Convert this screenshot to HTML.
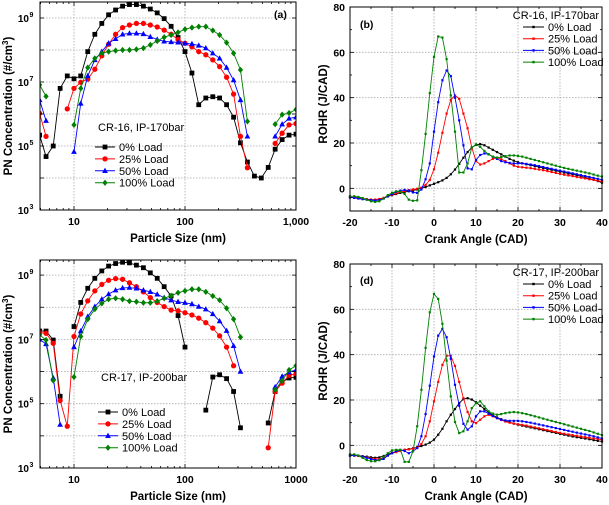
<!DOCTYPE html>
<html><head><meta charset="utf-8">
<style>
html,body{margin:0;padding:0;background:#fff;}
svg{display:block;font-family:"Liberation Sans",Arial,sans-serif;}
</style></head>
<body>
<svg id="fig" width="609" height="505" viewBox="0 0 609 505"></svg>
<script>
// ---------- Data: particle size distributions ----------
const diameters = [4.9,5.6,6.5,7.5,8.7,10,11.5,13.3,15.4,17.8,20.5,23.7,27.4,31.6,36.5,42.2,48.7,56.2,64.9,75,86.6,100,115.5,133,154,178,205,237,274,316,365,422,487,562,649,750,866,1000];
const loadLabels = ["0% Load","25% Load","50% Load","100% Load"];
// log10 of concentration (#/cm3), null = no data
const pnA0 = [5.34,4.67,5.0,6.8,7.19,7.1,7.19,7.95,8.49,8.83,9.1,9.25,9.37,9.42,9.42,9.37,9.28,9.16,8.98,8.74,8.39,7.95,7.28,6.29,6.5,6.54,6.5,6.29,5.9,5.1,4.5,4.06,4.0,4.33,4.9,5.2,5.34,5.37];
const pnA25 = [6.02,5.3,null,null,6.16,6.8,6.99,7.09,7.4,7.82,8.18,8.49,8.7,8.78,8.83,8.83,8.78,8.72,8.62,8.49,8.33,8.21,8.1,7.95,7.85,7.69,7.48,7.15,6.62,5.3,4.32,null,null,null,5.08,5.4,5.66,5.7];
const pnA50 = [6.44,5.79,null,null,null,4.82,6.33,7.19,7.69,7.95,8.21,8.35,8.49,8.52,8.52,8.5,8.41,8.33,8.27,8.25,8.24,8.21,8.19,8.14,8.06,7.9,7.74,7.45,7.06,6.44,5.3,null,null,null,5.3,5.68,5.86,5.9];
const pnA100 = [6.91,6.55,null,null,null,5.66,6.8,7.45,7.74,7.9,7.95,7.98,8.0,8.0,8.02,8.06,8.16,8.28,8.4,8.47,8.55,8.65,8.7,8.73,8.73,8.61,8.47,8.23,7.9,7.38,5.77,null,null,null,5.68,5.98,6.03,6.14];
const pnC0 = [7.26,7.26,6.98,5.23,null,7.4,8.15,8.59,8.9,9.13,9.28,9.36,9.4,9.38,9.31,9.23,9.07,8.9,8.64,8.35,7.74,6.76,null,null,4.8,5.83,5.9,5.78,5.38,4.25,null,null,null,4.4,5.38,5.67,5.8,5.82];
const pnC25 = [7.21,7.19,6.88,5.1,4.3,7.09,7.79,8.2,8.51,8.71,8.84,8.89,8.87,8.76,8.64,8.48,8.3,8.15,8.02,7.91,7.89,7.83,7.76,7.66,7.52,7.35,7.11,6.76,6.18,null,null,null,null,3.63,5.38,5.64,5.88,5.93];
const pnC50 = [7.0,6.86,5.8,4.35,null,6.76,7.26,7.71,8.02,8.25,8.41,8.53,8.6,8.61,8.59,8.53,8.48,8.4,8.3,8.22,8.17,8.14,8.1,8.02,7.94,7.79,7.57,7.27,6.8,6.0,null,null,null,null,5.52,5.85,5.98,6.05];
const pnC100 = [7.14,6.98,5.72,null,null,5.83,7.09,7.63,7.94,8.12,8.25,8.28,8.25,8.19,8.17,8.14,8.14,8.19,8.28,8.36,8.45,8.51,8.56,8.56,8.48,8.35,8.22,7.97,7.63,7.07,null,null,null,null,5.43,5.72,6.05,6.18];

// ---------- Data: heat release ----------
const crankAngles = [-20,-19,-18,-17,-16,-15,-14,-13,-12,-11,-10,-9,-8,-7,-6,-5,-4,-3,-2,-1,0,1,2,3,4,5,6,7,8,9,10,11,12,13,14,15,16,17,18,19,20,21,22,23,24,25,26,27,28,29,30,31,32,33,34,35,36,37,38,39,40];
const rohrB0 = [-4,-4,-4.2,-4.5,-4.8,-5,-5,-4.8,-4.3,-3.6,-3,-2.5,-2,-1.6,-1.3,-1,-0.5,0,0.6,1.3,2,2.7,3.5,4.6,6.2,8.3,10.8,13.5,16,18,19.2,19.5,19,18,17,16,15,14,13,12.2,11.5,11,10.6,10.2,9.8,9.4,9,8.6,8.2,7.8,7.4,7,6.6,6.2,5.8,5.3,4.8,4.3,3.8,3.2,2.5];
const rohrB25 = [-4,-4.2,-4.4,-4.6,-4.8,-5,-5,-4.7,-4.2,-3.5,-2.8,-2.2,-1.6,-1.2,-0.8,-0.5,-0.2,0.3,1.5,3.7,8.4,15.7,24.5,33,39,41,39.5,33,26.5,18,12,10.5,11,12,13,13.5,12.8,12,11,10,9.5,9.3,9.1,8.9,8.6,8.3,8,7.6,7.2,6.8,6.4,6,5.7,5.4,5,4.7,4.4,4,3.7,3.4,3];
const rohrB50 = [-4,-4.2,-4.5,-4.8,-5,-5.2,-5.4,-5.2,-4.5,-3.5,-2.5,-1.5,-1,-0.7,-1,-1.8,-2,-0.5,4,11,25,38,47.7,52,49.5,40,30,19,8.8,8.4,12.5,14.7,15.4,15,14,13,12,11.5,11.2,11,11,11,10.8,10.5,10.2,9.8,9.4,9,8.6,8.2,7.8,7.4,7,6.6,6.2,5.8,5.4,5,4.6,4.2,3.8];
const rohrB100 = [-3.5,-3.5,-3.8,-4.3,-5,-5.7,-6,-5.7,-4.5,-3,-2,-1.3,-1.5,-2.5,-5,-5.5,-5.3,8,24,42,58,67,66.5,57,41,25,7,7,11,18,19.4,18.3,16.5,15,14,13.5,13.8,14.2,14.5,14.5,14.3,14,13.5,13,12.5,12,11.5,11,10.5,10,9.5,9,8.6,8.2,7.8,7.4,7,6.6,6.1,5.6,5.2];
const rohrD0 = [-4.5,-4.5,-4.6,-4.8,-5,-5.3,-5.5,-5.3,-4.7,-4,-3.3,-2.8,-2.4,-2,-1.7,-1.3,-0.8,-0.3,0.3,1.2,2.5,4.7,7.3,10.6,13.5,16,18.6,20.4,20.8,20.2,19,17.5,16,14.5,13.3,12.3,11.5,10.8,10.2,9.6,9.1,8.7,8.3,7.9,7.5,7.1,6.7,6.3,5.9,5.5,5.1,4.7,4.3,3.9,3.6,3.3,3,2.7,2.3,2,1.7];
const rohrD25 = [-4.5,-4.5,-4.7,-5,-5.3,-5.8,-6,-6,-5.5,-4.5,-3.5,-3,-2.5,-2,-1.8,-1.5,-1,0.6,4,10.6,19.4,28,35.5,39.5,39.5,35,28,20.8,14.7,10.6,9.8,11.3,12.8,13.5,12.8,12,11.2,10.5,10,9.6,9.3,9,8.7,8.3,7.9,7.5,7.1,6.7,6.3,5.9,5.5,5.1,4.8,4.5,4.2,3.9,3.6,3.3,3,2.8,2.5];
const rohrD50 = [-4.5,-4.5,-4.5,-5,-5.5,-6,-6.5,-6.5,-6,-4.5,-3.5,-2.5,-2,-2.5,-3.5,-2.6,-1.2,4,13.8,26.3,39.2,48.4,51.4,47.7,38.2,26.7,17.5,9.5,6.9,8.4,12.8,15,15,14,13,12,11.3,11,10.8,10.8,10.8,10.6,10.3,10,9.6,9.2,8.8,8.4,8,7.6,7.2,6.8,6.4,6,5.6,5.2,4.8,4.4,4,3.5,3];
const rohrD100 = [-4,-4,-4.5,-5.5,-6.5,-7,-7,-6.5,-5,-3.5,-2.2,-2,-2,-7.3,-7.3,-2.6,8.4,24.5,43,58.7,66.8,64.6,53.6,37.4,21.6,10.3,5.4,6.2,10.6,16.4,18.6,19.4,17.2,15,14,13.5,13.8,14.2,14.5,14.7,14.5,14.2,13.8,13.3,12.8,12.3,11.8,11.3,10.8,10.3,9.8,9.3,8.8,8.3,7.8,7.3,6.8,6.3,5.7,5.1,4.5];

const colors = ["#000000","#ff0000","#0000ff","#008000"];
const markerKinds = ["square","circle","triangle","diamond"];
const NS = "http://www.w3.org/2000/svg";
const svg = document.getElementById("fig");
function mk(tag, attrs, parent) {
  const e = document.createElementNS(NS, tag);
  for (const k in attrs) e.setAttribute(k, attrs[k]);
  (parent || svg).appendChild(e);
  return e;
}
function marker(g, kind, x, y, s, color) {
  let m;
  if (kind === "square") m = mk("rect", {x:x-s, y:y-s, width:2*s, height:2*s, fill:color}, g);
  else if (kind === "circle") m = mk("circle", {cx:x, cy:y, r:s*1.1, fill:color}, g);
  else if (kind === "triangle") m = mk("polygon", {points:`${x},${y-s*1.3} ${x-s*1.2},${y+s*0.9} ${x+s*1.2},${y+s*0.9}`, fill:color}, g);
  else m = mk("polygon", {points:`${x},${y-s*1.3} ${x+s*1.1},${y} ${x},${y+s*1.3} ${x-s*1.1},${y}`, fill:color}, g);
  
  
}
function text(parent, x, y, str, opts) {
  const t = mk("text", Object.assign({x:x, y:y, "font-size":11, fill:"#000"}, opts || {}), parent);
  t.textContent = str;
  return t;
}

// ---------- PSD panel ----------
function psdPanel(name, L, R, T, B, yTopLog, series, legendTitle, panelTag, xLabels, legendPos) {
  const g = mk("g", {});
  
  
  const xMin = Math.log10(4.94), xMax = 3;
  const xs = d => L + (Math.log10(d) - xMin) / (xMax - xMin) * (R - L);
  const ys = lv => B - (lv - 3) / (yTopLog - 3) * (B - T);
  [10,100].forEach(d => mk("line", {x1:xs(d), x2:xs(d), y1:T, y2:B, stroke:"#aaa", "stroke-dasharray":"1.5,1.5", "stroke-width":0.8}, g));
  [4,5,6,7,8,9].forEach(p => mk("line", {x1:L, x2:R, y1:ys(p), y2:ys(p), stroke:"#aaa", "stroke-dasharray":"1.5,1.5", "stroke-width":0.8}, g));
  const cid = name + "-clip";
  const cp = mk("clipPath", {id:cid}, g);
  mk("rect", {x:L, y:T, width:R-L, height:B-T}, cp);
  const plot = mk("g", {"clip-path":`url(#${cid})`}, g);
  series.forEach((vals, si) => {
    const sg = mk("g", {}, plot);
    
    
    let seg = [];
    const segs = [];
    vals.forEach((v, i) => {
      if (v === null) { if (seg.length) segs.push(seg); seg = []; }
      else seg.push([xs(diameters[i]), ys(v)]);
    });
    if (seg.length) segs.push(seg);
    segs.forEach(s => mk("polyline", {points:s.map(p => p.join(",")).join(" "), fill:"none", stroke:colors[si], "stroke-width":0.9}, sg));
    segs.forEach(s => s.forEach(p => marker(sg, markerKinds[si], p[0], p[1], 2.4, colors[si])));
  });
  const fr = mk("rect", {x:L, y:T, width:R-L, height:B-T, fill:"none", stroke:"#000", "stroke-width":1}, g);
  
  
  for (let dec = 1; dec <= 1000; dec *= 10) {
    for (let m = 1; m < 10; m++) {
      const d = dec * m; if (d < 4.94 || d > 1000) continue;
      const x = xs(d), len = (m === 1) ? 4 : 2;
      mk("line", {x1:x, x2:x, y1:B, y2:B-len, stroke:"#000", "stroke-width":0.8}, g);
      mk("line", {x1:x, x2:x, y1:T, y2:T+len, stroke:"#000", "stroke-width":0.8}, g);
    }
  }
  for (let p = 3; p < yTopLog; p++) {
    mk("line", {x1:L, x2:L+4, y1:ys(p), y2:ys(p), stroke:"#000", "stroke-width":0.8}, g);
    mk("line", {x1:R, x2:R-4, y1:ys(p), y2:ys(p), stroke:"#000", "stroke-width":0.8}, g);
  }
  const xl = mk("g", {}, g);
  
  
  [[10,"10"],[100,"100"],[1000,xLabels]].forEach(([d, s]) => text(xl, xs(d), B + 15, s, {"text-anchor":"middle", "font-weight":"bold", "font-size":10.5}));
  const yl = mk("g", {}, g);
  
  
  [3,5,7,9].forEach(p => {
    text(yl, L - 11, ys(p) + 4, "10", {"text-anchor":"end", "font-weight":"bold", "font-size":10});
    text(yl, L - 10.5, ys(p) - 1, String(p), {"font-weight":"bold", "font-size":7});
  });
  const xt = text(g, (L+R)/2 + 10, B + 32, "Particle Size (nm)", {"text-anchor":"middle", "font-weight":"bold", "font-size":11.5});
  
  
  const yt = mk("text", {x:0, y:0, transform:`translate(${L-28},${(T+B)/2}) rotate(-90)`, "text-anchor":"middle", "font-weight":"bold", "font-size":11.5}, g);
  yt.textContent = "PN Concentration (#/cm";
  const sup = mk("tspan", {"baseline-shift":"super", "font-size":8}, yt); sup.textContent = "3";
  const cl = mk("tspan", {}, yt); cl.textContent = ")";
  
  
  if (panelTag) {
    const pt = text(g, R - 22, T + 16, panelTag, {"font-weight":"bold", "font-size":10.5});
    
    
  }
  const lg = mk("g", {}, g);
  
  
  const [lx, titleY, entryY] = legendPos;
  text(lg, lx + 3, titleY, legendTitle, {"font-size":11});
  loadLabels.forEach((lab, i) => {
    const y = entryY + i * 11.9;
    const e = mk("g", {}, lg);
    
    
    mk("line", {x1:lx, x2:lx+20, y1:y-4, y2:y-4, stroke:colors[i], "stroke-width":1}, e);
    marker(e, markerKinds[i], lx+10, y-4, 2.4, colors[i]);
    text(e, lx + 24, y, lab, {"font-size":11});
  });
}

// ---------- ROHR panel ----------
function rohrPanel(name, L, R, T, B, series, legendTitle, panelTag, tagY) {
  const g = mk("g", {});
  
  
  const xs = c => L + (c + 20) / 60 * (R - L);
  const ys = v => B - (v + 10) / 90 * (B - T);
  [-10,0,10,20,30].forEach(c => mk("line", {x1:xs(c), x2:xs(c), y1:T, y2:B, stroke:"#aaa", "stroke-dasharray":"1.5,1.5", "stroke-width":0.8}, g));
  [0,20,40,60].forEach(v => mk("line", {x1:L, x2:R, y1:ys(v), y2:ys(v), stroke:"#aaa", "stroke-dasharray":"1.5,1.5", "stroke-width":0.8}, g));
  series.forEach((vals, si) => {
    const sg = mk("g", {}, g);
    
    
    const pts = vals.map((v, i) => [xs(crankAngles[i]), ys(v)]);
    mk("polyline", {points:pts.map(p => p.join(",")).join(" "), fill:"none", stroke:colors[si], "stroke-width":0.9}, sg);
    pts.forEach(p => marker(sg, "square", p[0], p[1], 1.1, colors[si]));
  });
  const fr = mk("rect", {x:L, y:T, width:R-L, height:B-T, fill:"none", stroke:"#000", "stroke-width":1}, g);
  
  
  for (let c = -20; c <= 40; c += 5) {
    const len = c % 10 === 0 ? 4 : 2;
    mk("line", {x1:xs(c), x2:xs(c), y1:B, y2:B-len, stroke:"#000", "stroke-width":0.8}, g);
    mk("line", {x1:xs(c), x2:xs(c), y1:T, y2:T+len, stroke:"#000", "stroke-width":0.8}, g);
  }
  for (let v = -10; v <= 80; v += 10) {
    const len = v % 20 === 0 ? 4 : 2;
    mk("line", {x1:L, x2:L+len, y1:ys(v), y2:ys(v), stroke:"#000", "stroke-width":0.8}, g);
    mk("line", {x1:R, x2:R-len, y1:ys(v), y2:ys(v), stroke:"#000", "stroke-width":0.8}, g);
  }
  const xl = mk("g", {}, g);
  
  
  [-20,-10,0,10,20,30,40].forEach(c => text(xl, xs(c), B + 15, String(c), {"text-anchor":"middle", "font-weight":"bold", "font-size":10.5}));
  const yl = mk("g", {}, g);
  
  
  [0,20,40,60,80].forEach(v => text(yl, L - 5, ys(v) + 4, String(v), {"text-anchor":"end", "font-weight":"bold", "font-size":10.5}));
  const xt = text(g, (L+R)/2, B + 32, "Crank Angle (CAD)", {"text-anchor":"middle", "font-weight":"bold", "font-size":11.5});
  
  
  const yt = mk("text", {x:0, y:0, transform:`translate(${L-23},${(T+B)/2 - 5}) rotate(-90)`, "text-anchor":"middle", "font-weight":"bold", "font-size":11.5}, g);
  yt.textContent = "ROHR (J/CAD)";
  
  
  const pt = text(g, L + 10, tagY, panelTag, {"font-weight":"bold", "font-size":10.5});
  
  
  const lg = mk("g", {}, g);
  
  
  const lx = R - 79, ly = T + 12;
  text(lg, R - 3, ly, legendTitle, {"font-size":11, "text-anchor":"end"});
  loadLabels.forEach((lab, i) => {
    const y = ly + 12 + i * 11.7;
    const e = mk("g", {}, lg);
    
    
    mk("line", {x1:lx, x2:lx+21, y1:y-4, y2:y-4, stroke:colors[i], "stroke-width":1}, e);
    marker(e, "square", lx+10.5, y-4, 1.2, colors[i]);
    text(e, lx + 25, y, lab, {"font-size":11});
  });
}

psdPanel("panel-a-particle-size", 40, 296, 2, 210, 9.5, [pnA0, pnA25, pnA50, pnA100], "CR-16, IP-170bar", "(a)", "1,000", [95, 131, 151]);
psdPanel("panel-c-particle-size", 40, 296, 260, 468, 9.47, [pnC0, pnC25, pnC50, pnC100], "CR-17, IP-200bar", null, "1000", [98, 381, 416]);
rohrPanel("panel-b-rohr", 350, 602, 7, 211, [rohrB0, rohrB25, rohrB50, rohrB100], "CR-16, IP-170bar", "(b)", 28);
rohrPanel("panel-d-rohr", 350, 602, 264, 468, [rohrD0, rohrD25, rohrD50, rohrD100], "CR-17, IP-200bar", "(d)", 284);
</script>
</body></html>
